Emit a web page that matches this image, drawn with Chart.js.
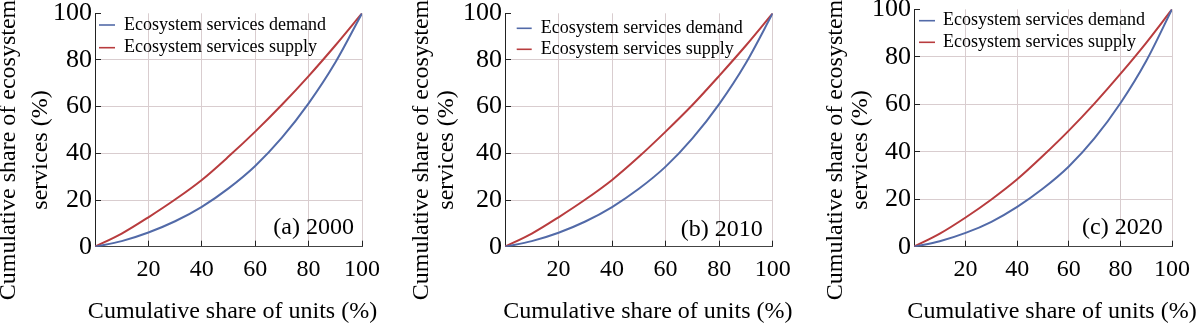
<!DOCTYPE html>
<html><head><meta charset="utf-8">
<script src="https://cdn.jsdelivr.net/npm/chart.js@4.4.1/dist/chart.umd.min.js"></script>
<style>
html,body{margin:0;padding:0;background:#fff;}
#wrap{position:relative;width:1200px;height:323px;overflow:hidden;background:#fff;}
.p{position:absolute;top:0;width:400px;height:323px;}
canvas{display:block;}
</style></head><body>
<div id="wrap">
<div class="p" style="left:0"><canvas id="c0" width="400" height="323"></canvas></div>
<div class="p" style="left:400px"><canvas id="c1" width="400" height="323"></canvas></div>
<div class="p" style="left:800px"><canvas id="c2" width="400" height="323"></canvas></div>
</div>
<script>
// ---- data ----
const unitShare = [0, 10, 20, 30, 40, 50, 60, 70, 80, 90, 100];
const xTickValues = [20, 40, 60, 80, 100];
const yTickValues = [0, 20, 40, 60, 80, 100];
const demand2000 = [0, 2.4, 6.1, 10.9, 17.1, 25.0, 34.6, 46.7, 61.4, 78.9, 100];
const supply2000 = [0, 5.6, 12.6, 20.2, 28.6, 38.6, 49.3, 60.8, 73.1, 86.2, 100];
const demand2010 = [0, 2.4, 6.0, 10.8, 17.0, 24.8, 34.3, 46.4, 61.1, 78.7, 100];
const supply2010 = [0, 5.6, 12.6, 20.2, 28.6, 38.5, 49.3, 60.7, 73.2, 86.2, 100];
const demand2020 = [0, 2.3, 5.8, 10.5, 16.8, 24.5, 33.8, 45.7, 60.4, 78.2, 100];
const supply2020 = [0, 5.5, 12.3, 19.9, 28.4, 38.3, 48.9, 60.4, 72.8, 85.9, 100];
const panelLabels = ['(a) 2000', '(b) 2010', '(c) 2020'];
const seriesNames = ['Ecosystem services demand', 'Ecosystem services supply'];
const xTitle = 'Cumulative share of units (%)';
const yTitle = ['Cumulative share of ecosystem', 'services (%)'];

const demandSets = [demand2000, demand2010, demand2020];
const supplySets = [supply2000, supply2010, supply2020];

// ---- styling / layout ----
const BLUE = '#526aa8';
const RED = '#b83c3e';
const GRID = '#d9cdcf';
const AXIS = '#222';
const SERIF = '"Liberation Serif", "Times New Roman", serif';

const layouts = [
  {left: 95, right: 362, top: 13.3, bottom: 246.7, legLine: [4, 20], legText: 29, legRows: [11.7, 34.4],
   labelDx: 8, labelDy: 18.7, xTitleDx: 4, yBase: [-80, -48]},
  {left: 105, right: 372.7, top: 13.3, bottom: 246.7, legLine: [11.7, 26.7], legText: 35.7, legRows: [15, 36],
   labelDx: 10, labelDy: 16.7, xTitleDx: 9, yBase: [-77, -52]},
  {left: 114, right: 372, top: 9.3, bottom: 246.7, legLine: [5, 21], legText: 29, legRows: [11.4, 33],
   labelDx: 9.3, labelDy: 18.7, xTitleDx: 9, yBase: [-72, -47]}
];

const deco = {
  id: 'deco',
  afterDraw(chart, args, o) {
    const ctx = chart.ctx, a = chart.chartArea;
    ctx.save();
    ctx.fillStyle = '#000';
    // legend
    ctx.font = '18px ' + SERIF;
    ctx.textBaseline = 'middle';
    ctx.textAlign = 'left';
    chart.data.datasets.forEach((ds, i) => {
      const y = a.top + o.legRows[i];
      ctx.strokeStyle = ds.borderColor;
      ctx.lineWidth = 1.6;
      ctx.beginPath();
      ctx.moveTo(a.left + o.legLine[0], y);
      ctx.lineTo(a.left + o.legLine[1], y);
      ctx.stroke();
      ctx.fillText(ds.label, a.left + o.legText, y);
    });
    // panel label
    ctx.font = '24px ' + SERIF;
    ctx.textAlign = 'right';
    ctx.textBaseline = 'middle';
    ctx.fillText(o.label, a.right - o.labelDx, a.bottom - o.labelDy);
    // x title
    ctx.textAlign = 'center';
    ctx.textBaseline = 'alphabetic';
    ctx.fillText(xTitle, (a.left + a.right) / 2 + o.xTitleDx, 318);
    // y title
    yTitle.forEach((t, i) => {
      ctx.save();
      ctx.translate(a.left + o.yBase[i], 150);
      ctx.rotate(-Math.PI / 2);
      ctx.textAlign = 'center';
      ctx.textBaseline = 'alphabetic';
      ctx.fillText(t, 0, 0);
      ctx.restore();
    });
    ctx.restore();
  }
};

function makeChart(idx) {
  const L = layouts[idx];
  const toPts = arr => unitShare.map((x, i) => ({x: x, y: arr[i]}));
  new Chart(document.getElementById('c' + idx), {
    type: 'line',
    data: {
      datasets: [
        {label: seriesNames[0], data: toPts(demandSets[idx]), borderColor: BLUE, borderWidth: 2,
         pointRadius: 0, cubicInterpolationMode: 'monotone', fill: false},
        {label: seriesNames[1], data: toPts(supplySets[idx]), borderColor: RED, borderWidth: 2,
         pointRadius: 0, cubicInterpolationMode: 'monotone', fill: false}
      ]
    },
    options: {
      responsive: false,
      animation: false,
      devicePixelRatio: 1,
      layout: {padding: {left: 0, right: 400 - L.right, top: L.top, bottom: 0}},
      plugins: {
        legend: {display: false},
        tooltip: {enabled: false},
        deco: Object.assign({label: panelLabels[idx]}, L)
      },
      scales: {
        x: {
          type: 'linear', min: 0, max: 100,
          afterBuildTicks: s => { s.ticks = [0].concat(xTickValues).map(v => ({value: v})); },
          ticks: {
            callback: v => (xTickValues.includes(v) ? String(v) : ''),
            font: {family: SERIF, size: 24, lineHeight: 1.2},
            color: '#000', padding: 14.6, maxRotation: 0, autoSkip: false
          },
          grid: {
            color: c => (c.tick && c.tick.value === 0 ? 'rgba(0,0,0,0)' : GRID),
            tickColor: c => (c.tick && c.tick.value === 0 ? 'rgba(0,0,0,0)' : AXIS),
            tickLength: -6, lineWidth: 1
          },
          border: {color: '#444', width: 1},
          afterFit: s => { s.height = 323 - L.bottom; s.paddingLeft = 0; s.paddingRight = 0; }
        },
        y: {
          min: 0, max: 100,
          afterBuildTicks: s => { s.ticks = yTickValues.map(v => ({value: v})); },
          ticks: {
            font: {family: SERIF, size: 26, lineHeight: 1.2},
            color: '#000', padding: 9, autoSkip: false
          },
          grid: {
            color: c => (c.tick && (c.tick.value === 100 || c.tick.value === 0) ? 'rgba(0,0,0,0)' : GRID),
            tickColor: AXIS, tickLength: -6, lineWidth: 1
          },
          border: {color: AXIS, width: 1},
          afterFit: s => { s.width = L.left; s.paddingTop = 0; s.paddingBottom = 0; }
        }
      }
    },
    plugins: [deco]
  });
}
[0, 1, 2].forEach(makeChart);
</script>
</body></html>
